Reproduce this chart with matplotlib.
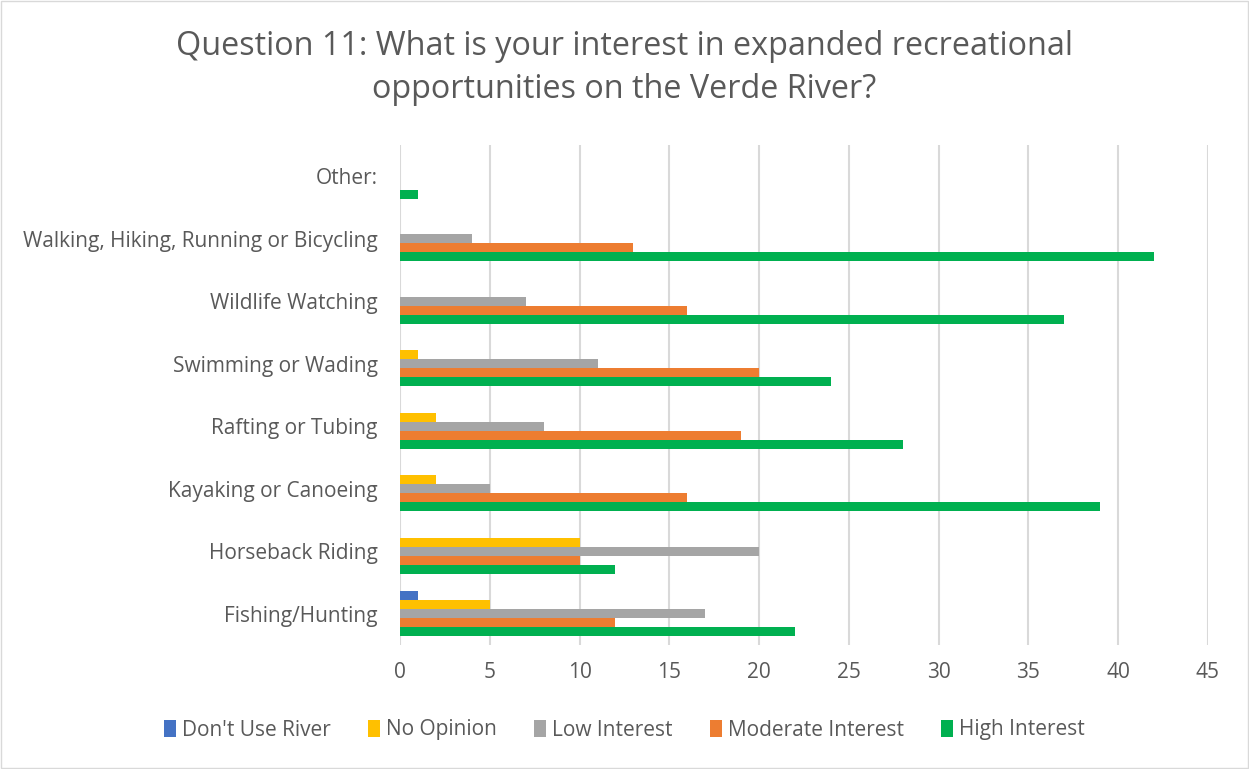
import matplotlib.pyplot as plt
from matplotlib.patches import Rectangle
import numpy as np

plt.rcParams['font.family'] = ['Open Sans', 'DejaVu Sans']

categories = ['Fishing/Hunting', 'Horseback Riding', 'Kayaking or Canoeing',
              'Rafting or Tubing', 'Swimming or Wading', 'Wildlife Watching',
              'Walking, Hiking, Running or Bicycling', 'Other:']
series_names = ["Don't Use River", 'No Opinion', 'Low Interest',
                'Moderate Interest', 'High Interest']
dont_use = [1, 0, 0, 0, 0, 0, 0, 0]
no_opinion = [5, 10, 2, 2, 1, 0, 0, 0]
low = [17, 20, 5, 8, 11, 7, 4, 0]
moderate = [12, 10, 16, 19, 20, 16, 13, 0]
high = [22, 12, 39, 28, 24, 37, 42, 1]
colors = ['#4472C4', '#FFC000', '#A5A5A5', '#ED7D31', '#00B050']

txt = '#595959'
fig = plt.figure(figsize=(12.49, 7.69), dpi=100)
ax = fig.add_axes([400/1249, 1-645/769, 808/1249, 500/769])

y = np.arange(len(categories))
h = 0.143
all_series = [dont_use, no_opinion, low, moderate, high]
for i, (vals, name, c) in enumerate(zip(all_series, series_names, colors)):
    off = (2 - i) * h
    ax.barh(y + off, vals, height=h, color=c, label=name, zorder=3)

ax.set_xlim(0, 45)
ax.set_ylim(-0.5, 7.5)
ax.set_xticks(range(0, 46, 5))
ax.set_yticks(y)
ax.set_yticklabels(categories)
ax.tick_params(length=0, labelsize=15, colors=txt)
ax.tick_params(axis='x', pad=12)
ax.tick_params(axis='y', pad=16)
ax.grid(axis='x', color='#d9d9d9', linewidth=1.5, zorder=0)
for s in ax.spines.values():
    s.set_visible(False)

fig.text(0.5, 1-68/769, 'Question 11: What is your interest in expanded recreational\nopportunities on the Verde River?',
         ha='center', va='center', fontsize=23.3, color=txt, linespacing=1.38)

ax.legend(loc='center', bbox_to_anchor=(0.5*1249/808 - 400/808, (645-730)/500),
          ncol=5, frameon=False, fontsize=15, handlelength=0.55, handleheight=0.9,
          handletextpad=0.3, columnspacing=1.8, labelcolor=txt)

fig.patches.append(Rectangle((0.001, 0.001), 0.998, 0.998, transform=fig.transFigure,
                             fill=False, edgecolor='#d9d9d9', linewidth=1))

fig.savefig('out.png', dpi=100)
